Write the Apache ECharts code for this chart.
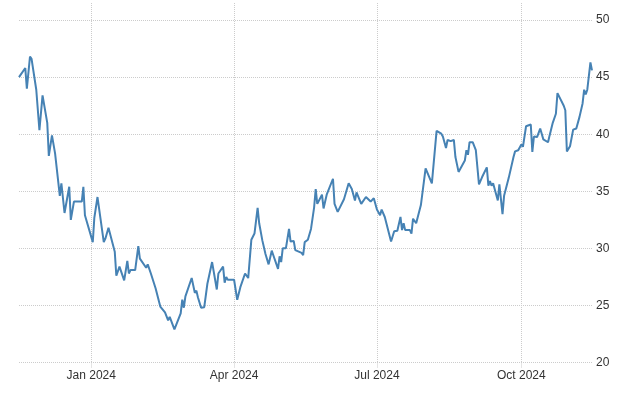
<!DOCTYPE html>
<html>
<head>
<meta charset="utf-8">
<script src="https://cdn.jsdelivr.net/npm/echarts@6/dist/echarts.min.js"></script>
<style>
html,body{margin:0;padding:0;background:#fff;}
#chart{width:640px;height:400px;}
</style>
</head>
<body>
<div id="chart"></div>
<script>
// Dates (trading days, approximate) and closing values
const dates = [
'2023-11-16','2023-11-20','2023-11-21','2023-11-23','2023-11-24','2023-11-27','2023-11-29','2023-12-01',
'2023-12-04','2023-12-05','2023-12-07','2023-12-09','2023-12-12','2023-12-13','2023-12-15','2023-12-18',
'2023-12-19','2023-12-21','2023-12-26','2023-12-27','2023-12-28',
'2024-01-02','2024-01-03','2024-01-05','2024-01-09','2024-01-10','2024-01-12','2024-01-16','2024-01-17',
'2024-01-19','2024-01-22','2024-01-23','2024-01-24','2024-01-25','2024-01-26','2024-01-29','2024-01-31',
'2024-02-01','2024-02-02','2024-02-05','2024-02-06','2024-02-08','2024-02-11','2024-02-14','2024-02-15',
'2024-02-17','2024-02-19','2024-02-20','2024-02-21','2024-02-23','2024-02-24','2024-02-27','2024-02-28',
'2024-02-29','2024-03-01','2024-03-05','2024-03-07','2024-03-08','2024-03-09','2024-03-11','2024-03-13',
'2024-03-15','2024-03-18','2024-03-19','2024-03-21','2024-03-22','2024-03-25','2024-03-26','2024-03-27',
'2024-03-28','2024-04-01','2024-04-03','2024-04-05','2024-04-08','2024-04-10','2024-04-12','2024-04-14',
'2024-04-16','2024-04-17','2024-04-18','2024-04-19','2024-04-21','2024-04-23','2024-04-25','2024-04-26',
'2024-04-27','2024-04-29','2024-04-30','2024-05-01','2024-05-02','2024-05-04','2024-05-06','2024-05-07',
'2024-05-09','2024-05-10','2024-05-14','2024-05-15','2024-05-16','2024-05-18','2024-05-20','2024-05-22',
'2024-05-23','2024-05-24','2024-05-25','2024-05-27','2024-05-28','2024-05-30','2024-05-31','2024-06-03',
'2024-06-04','2024-06-06','2024-06-07','2024-06-10','2024-06-11','2024-06-13','2024-06-15','2024-06-17',
'2024-06-18','2024-06-21','2024-06-24','2024-06-25','2024-06-27','2024-06-29','2024-07-01','2024-07-02',
'2024-07-03','2024-07-04','2024-07-06','2024-07-10','2024-07-12','2024-07-14','2024-07-16','2024-07-17',
'2024-07-18','2024-07-19','2024-07-20','2024-07-22','2024-07-23','2024-07-24','2024-07-26','2024-07-29',
'2024-08-01','2024-08-05','2024-08-08','2024-08-11','2024-08-12','2024-08-14','2024-08-15','2024-08-17',
'2024-08-19','2024-08-20','2024-08-22','2024-08-23','2024-08-26','2024-08-27','2024-08-28','2024-08-29',
'2024-08-31','2024-09-02','2024-09-04','2024-09-06','2024-09-07','2024-09-09','2024-09-10','2024-09-11',
'2024-09-12','2024-09-13','2024-09-14','2024-09-16','2024-09-17','2024-09-18','2024-09-19','2024-09-20',
'2024-09-21','2024-09-23','2024-09-24','2024-09-26','2024-09-27','2024-09-29','2024-10-01','2024-10-02',
'2024-10-04','2024-10-07','2024-10-08','2024-10-09','2024-10-11','2024-10-13','2024-10-15','2024-10-18',
'2024-10-19','2024-10-21','2024-10-23','2024-10-24','2024-10-28','2024-10-29','2024-10-30','2024-11-01',
'2024-11-03','2024-11-05','2024-11-07','2024-11-09','2024-11-10','2024-11-11','2024-11-12','2024-11-14',
'2024-11-15'
];
const values = [
45.0,45.8,44.0,46.8,46.6,43.9,40.35,43.4,
41.0,38.1,39.9,38.3,34.6,35.7,33.1,35.4,
32.5,34.1,34.1,35.4,32.9,
30.55,32.7,34.5,30.55,30.85,31.8,29.7,27.6,
28.4,27.2,27.15,28.9,27.8,28.1,28.1,30.2,
29.1,29.2,28.3,28.6,27.8,26.5,24.9,24.8,
24.4,23.7,24.0,23.9,22.9,23.05,24.3,25.5,
24.8,25.8,27.4,26.1,26.3,25.7,24.8,24.85,
26.9,28.8,28.8,26.4,27.8,28.4,27.0,27.5,
27.25,27.25,25.5,26.6,27.8,27.4,30.75,31.3,
33.55,32.2,32.2,30.7,29.5,28.6,29.8,29.4,
29.3,28.2,29.3,28.8,30.0,30.0,31.7,30.6,
30.65,29.85,29.6,29.4,30.55,30.75,31.7,33.6,
35.2,33.9,33.9,34.7,33.5,34.7,34.7,36.1,
33.9,33.2,33.2,34.3,34.2,35.7,35.2,34.2,
34.9,33.9,34.5,34.35,34.1,34.4,33.4,33.5,
32.9,33.4,32.75,30.6,31.5,31.55,32.75,31.6,
32.2,31.6,31.7,31.6,31.3,32.6,32.2,33.8,
37.0,35.7,40.3,40.05,39.8,38.8,39.5,39.4,
39.5,38.0,36.7,36.55,37.7,38.6,38.2,39.3,
39.3,38.6,35.6,36.25,36.2,37.1,35.5,35.9,
35.5,35.7,35.65,34.2,35.6,35.6,33.0,34.6,
34.55,36.2,36.2,38.0,38.5,38.6,39.1,38.9,
40.7,40.85,38.45,39.8,39.75,40.5,39.55,39.3,
39.9,41.0,41.8,43.6,42.5,42.1,38.5,38.95,
40.4,40.5,41.5,42.7,43.9,43.5,43.9,46.3,
45.6
];
const monthNames = ['Jan','Feb','Mar','Apr','May','Jun','Jul','Aug','Sep','Oct','Nov','Dec'];

const seriesData = dates.map((d, i) => [d, values[i]]);
const dotted = { color: '#cccccc', type: 'dotted', width: 1 };

const chart = echarts.init(document.getElementById('chart'), null, { renderer: 'canvas' });
chart.setOption({
  animation: false,
  backgroundColor: '#ffffff',
  grid: { left: 19, right: 48, top: 3, bottom: 37.5, containLabel: false },
  xAxis: {
    type: 'time',
    min: 'dataMin',
    max: 'dataMax',
    splitNumber: 4,
    minInterval: 80 * 86400000,
    maxInterval: 100 * 86400000,
    axisLine: { show: false },
    axisTick: { show: true, length: 5, lineStyle: dotted },
    splitLine: { show: true, showMinLine: false, showMaxLine: false, lineStyle: dotted },
    axisLabel: {
      margin: 7,
      color: '#333',
      fontSize: 12,
      fontFamily: 'Liberation Sans, Arial, sans-serif',
      showMinLabel: false,
      showMaxLabel: false,
      formatter: function (val) {
        const d = new Date(val);
        return monthNames[d.getMonth()] + ' ' + d.getFullYear();
      }
    }
  },
  yAxis: {
    type: 'value',
    position: 'right',
    min: 20,
    max: 51.5,
    interval: 5,
    axisLine: { show: false },
    axisTick: { show: false },
    splitLine: { show: true, showMaxLine: false, lineStyle: dotted },
    axisLabel: {
      margin: 4,
      color: '#333',
      fontSize: 12,
      fontFamily: 'Liberation Sans, Arial, sans-serif',
      showMaxLabel: false
    }
  },
  series: [{
    type: 'line',
    data: seriesData,
    showSymbol: false,
    symbol: 'none',
    lineStyle: { color: '#4682b4', width: 2 },
    itemStyle: { color: '#4682b4' }
  }]
});
</script>
</body>
</html>
